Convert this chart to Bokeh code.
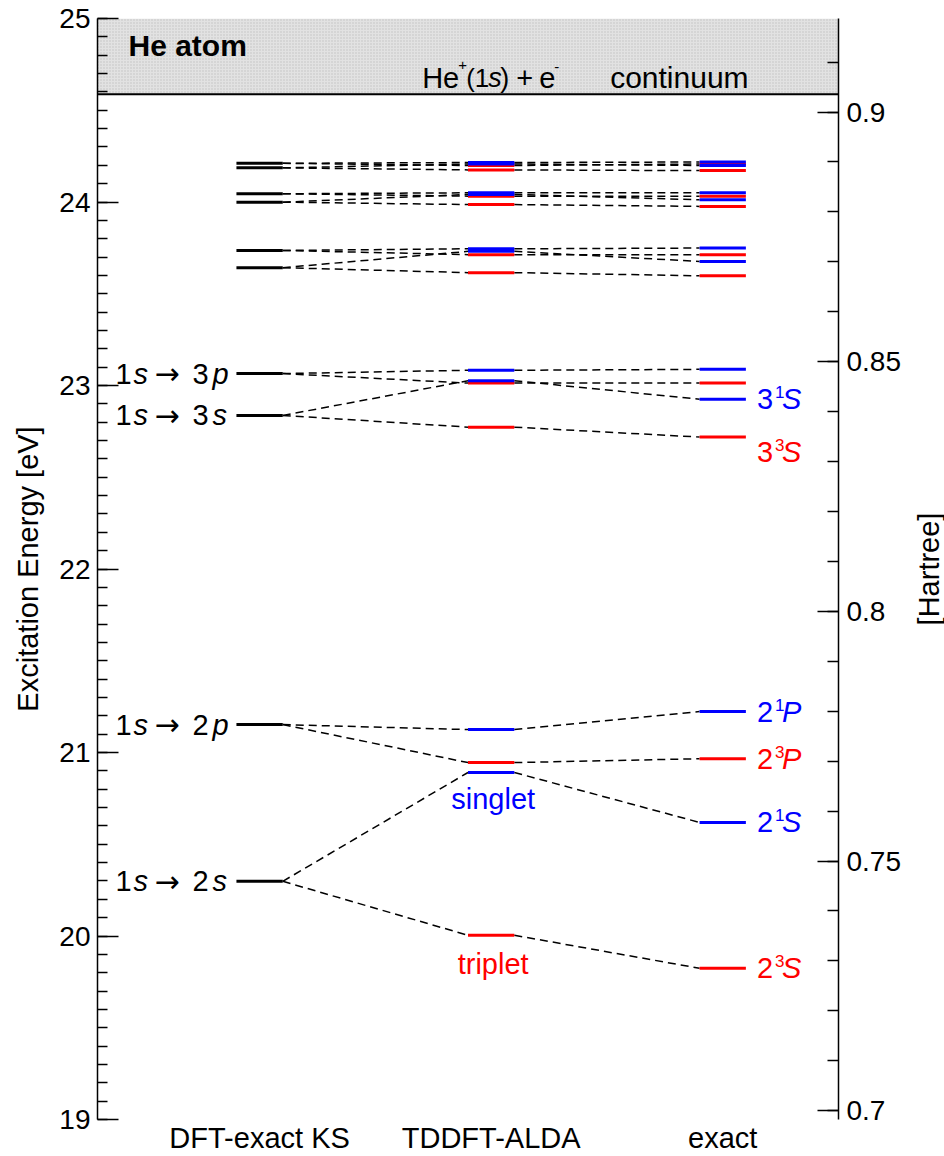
import math
from bokeh.plotting import figure
from bokeh.layouts import row
from bokeh.models import (Range1d, LinearAxis, SingleIntervalTicker, FixedTicker,
                          CustomJSTickFormatter, Span)
from bokeh.core.properties import value
from bokeh.embed import file_html
from bokeh.resources import INLINE

HARTREE_EV = 27.2114

# ---------------- data (eV) ----------------
methods = ["DFT-exact KS", "TDDFT-ALDA", "exact"]
method_x = [0, 1, 2]

transitions = ["2s", "2p", "3s", "3p", "4s", "4p", "5s", "5p", "6s", "6p"]
ks_eV = [20.298, 21.152, 22.837, 23.065, 23.642, 23.736, 23.999, 24.045, 24.186, 24.211]
alda_singlet_eV = [20.891, 21.125, 23.026, 23.083, 23.731, 23.745, 24.041, 24.050, 24.207, 24.215]
alda_triplet_eV = [20.004, 20.945, 22.773, 23.013, 23.615, 23.713, 23.986, 24.032, 24.175, 24.199]
exact_singlet_eV = [20.619, 21.223, 22.925, 23.088, 23.676, 23.749, 24.012, 24.050, 24.199, 24.218]
exact_triplet_eV = [19.824, 20.966, 22.719, 23.013, 23.598, 23.713, 23.976, 24.032, 24.171, 24.207]

ionization_eV = 24.587
y_min_eV, y_max_eV = 19, 25

ks_labelled = ["2s", "2p", "3s", "3p"]
# (transition, spin, principal n, multiplicity, L)
exact_labelled = [("2p", "singlet", "2", "1", "P"), ("2p", "triplet", "2", "3", "P"),
                  ("2s", "singlet", "2", "1", "S"), ("2s", "triplet", "2", "3", "S"),
                  ("3s", "singlet", "3", "1", "S"), ("3s", "triplet", "3", "3", "S")]

BLUE = "#0000ff"
RED = "#ff0000"
FONT_NAME = "Liberation Sans"
FONT = value(FONT_NAME)
HALF = 0.1
H = 1156

p = figure(width=912, height=H, x_range=Range1d(-0.70, 2.50),
           y_range=Range1d(y_min_eV, y_max_eV),
           x_axis_type=None, y_axis_type=None,
           output_backend="svg", toolbar_location=None,
           min_border_left=97, min_border_right=74, min_border_top=18, min_border_bottom=36)
p.outline_line_color = None
p.background_fill_color = "white"
p.border_fill_color = "white"
p.extra_y_ranges = {"ha": Range1d(y_min_eV / HARTREE_EV, y_max_eV / HARTREE_EV)}

# continuum region
p.quad(left=p.x_range.start, right=p.x_range.end, bottom=ionization_eV, top=y_max_eV,
       fill_color="#e2e2e2", hatch_pattern="dot", hatch_color="#c0c0c0", hatch_scale=3,
       line_color=None)
p.add_layout(Span(location=ionization_eV, dimension="width", line_color="black", line_width=2))

# dashed connectors
x0s, y0s, x1s, y1s = [], [], [], []
for i in range(len(transitions)):
    for alda, ex in ((alda_singlet_eV[i], exact_singlet_eV[i]), (alda_triplet_eV[i], exact_triplet_eV[i])):
        x0s += [method_x[0] + HALF, method_x[1] + HALF]
        y0s += [ks_eV[i], alda]
        x1s += [method_x[1] - HALF, method_x[2] - HALF]
        y1s += [alda, ex]
p.segment(x0=x0s, y0=y0s, x1=x1s, y1=y1s, line_color="black", line_width=1.5, line_dash="8 5")

def levels(xc, ys, color):
    p.segment(x0=[xc - HALF] * len(ys), x1=[xc + HALF] * len(ys), y0=ys, y1=ys,
              line_color=color, line_width=3)

levels(method_x[0], ks_eV, "black")
levels(method_x[1], alda_triplet_eV, RED)
levels(method_x[1], alda_singlet_eV, BLUE)
levels(method_x[2], exact_triplet_eV, RED)
levels(method_x[2], exact_singlet_eV, BLUE)

def piece(fig, x, y, text, x_off, y_off=0, size="29px", style="normal", color="black",
          align="left", font=FONT, baseline="middle", angle=0):
    fig.text(x=[x], y=[y], text=[text], x_offset=x_off, y_offset=y_off, angle=angle,
             text_font=font, text_font_size=size, text_font_style=style,
             text_color=color, text_align=align, text_baseline=baseline)

# KS transition labels
for t in ks_labelled:
    y = ks_eV[transitions.index(t)]
    xa = method_x[0] - HALF
    piece(p, xa, y, "1", -121)
    piece(p, xa, y, "s", -103, style="italic")
    piece(p, xa, y, "\u2192", -82, font=value("DejaVu Sans"), size="30px")
    piece(p, xa, y, t[0], -44)
    piece(p, xa, y, t[1], -24, style="italic")

# exact state labels
for t, spin, n, mult, L in exact_labelled:
    i = transitions.index(t)
    y = exact_singlet_eV[i] if spin == "singlet" else exact_triplet_eV[i]
    col = BLUE if spin == "singlet" else RED
    dy = 15 if (t == "3s" and spin == "triplet") else 0
    xa = method_x[2] + HALF
    piece(p, xa, y, n, 11, dy, color=col)
    piece(p, xa, y, mult, 29, dy - 7, size="17px", color=col)
    piece(p, xa, y, L, 36, dy, style="italic", color=col)

# singlet / triplet tags
piece(p, method_x[1], alda_singlet_eV[0], "singlet", 2, 26, color=BLUE, align="center")
piece(p, method_x[1], alda_triplet_eV[0], "triplet", 2, 29, color=RED, align="center")

# continuum annotation
yc = y_max_eV
xc = method_x[1]
piece(p, xc, yc, "He", -69, 59)
piece(p, xc, yc, "+", -33, 46, size="15px")
piece(p, xc, yc, "(1", -25, 59, size="26px")
piece(p, xc, yc, "s", -3, 59, size="27px", style="italic")
piece(p, xc, yc, ")", 9, 59, size="27px")
piece(p, xc, yc, "+", 25, 59)
piece(p, xc, yc, "e", 48, 59)
piece(p, xc, yc, "-", 63, 48, size="15px")
piece(p, xc, yc, "continuum", 119, 59, size="30px")
piece(p, p.x_range.start, yc, "He atom", 31, 27, style="bold", size="30px")

# axes
left = LinearAxis(ticker=SingleIntervalTicker(interval=1, num_minor_ticks=10),
                  axis_label="Excitation Energy [eV]")
right = LinearAxis(y_range_name="ha", ticker=SingleIntervalTicker(interval=0.05, num_minor_ticks=5),
                   formatter=CustomJSTickFormatter(code="return String(Math.round(tick*100)/100);"))
bottom = LinearAxis(ticker=FixedTicker(ticks=method_x),
                    major_label_overrides={x: m for x, m in zip(method_x, methods)})

for ax in (left, right):
    ax.axis_line_width = 1.5
    ax.major_tick_line_width = 1.5
    ax.minor_tick_line_width = 1.5
    ax.major_tick_in = 21
    ax.major_tick_out = 0
    ax.minor_tick_in = 10
    ax.minor_tick_out = 0
    ax.major_label_text_font = FONT_NAME
    ax.major_label_text_font_size = "28px"
    ax.major_label_text_color = "black"
    ax.axis_label_text_font = FONT_NAME
    ax.axis_label_text_font_size = "29px"
    ax.axis_label_text_font_style = "normal"
    ax.axis_label_text_color = "black"
left.major_label_standoff = 7
left.axis_label_standoff = 12
right.major_label_standoff = 8
right.minor_tick_in = 11

bottom.axis_line_color = None
bottom.major_tick_line_color = None
bottom.minor_tick_line_color = None
bottom.major_tick_in = 0
bottom.major_tick_out = 0
bottom.minor_tick_in = 0
bottom.minor_tick_out = 0
bottom.major_label_standoff = 2
bottom.major_label_text_line_height = 0.5
bottom.major_label_text_font = FONT_NAME
bottom.major_label_text_font_size = "29px"
bottom.major_label_text_color = "black"

p.add_layout(left, "left")
p.add_layout(right, "right")
p.add_layout(bottom, "below")

# narrow strip on the right carrying the Hartree axis title (frames are aligned in the row)
side_w = 944 - 912
q = figure(width=side_w, height=H, x_range=Range1d(0, side_w), y_range=Range1d(y_min_eV, y_max_eV),
           x_axis_type=None, y_axis_type=None, output_backend="svg", toolbar_location=None,
           min_border=0)
q.outline_line_color = None
q.background_fill_color = "white"
q.border_fill_color = "white"
q.grid.visible = False
piece(q, side_w / 2, (y_min_eV + y_max_eV) / 2, "[Hartree]", 0, align="center", angle=math.pi / 2)

open("out.html", "w").write(file_html(row(p, q), INLINE))
